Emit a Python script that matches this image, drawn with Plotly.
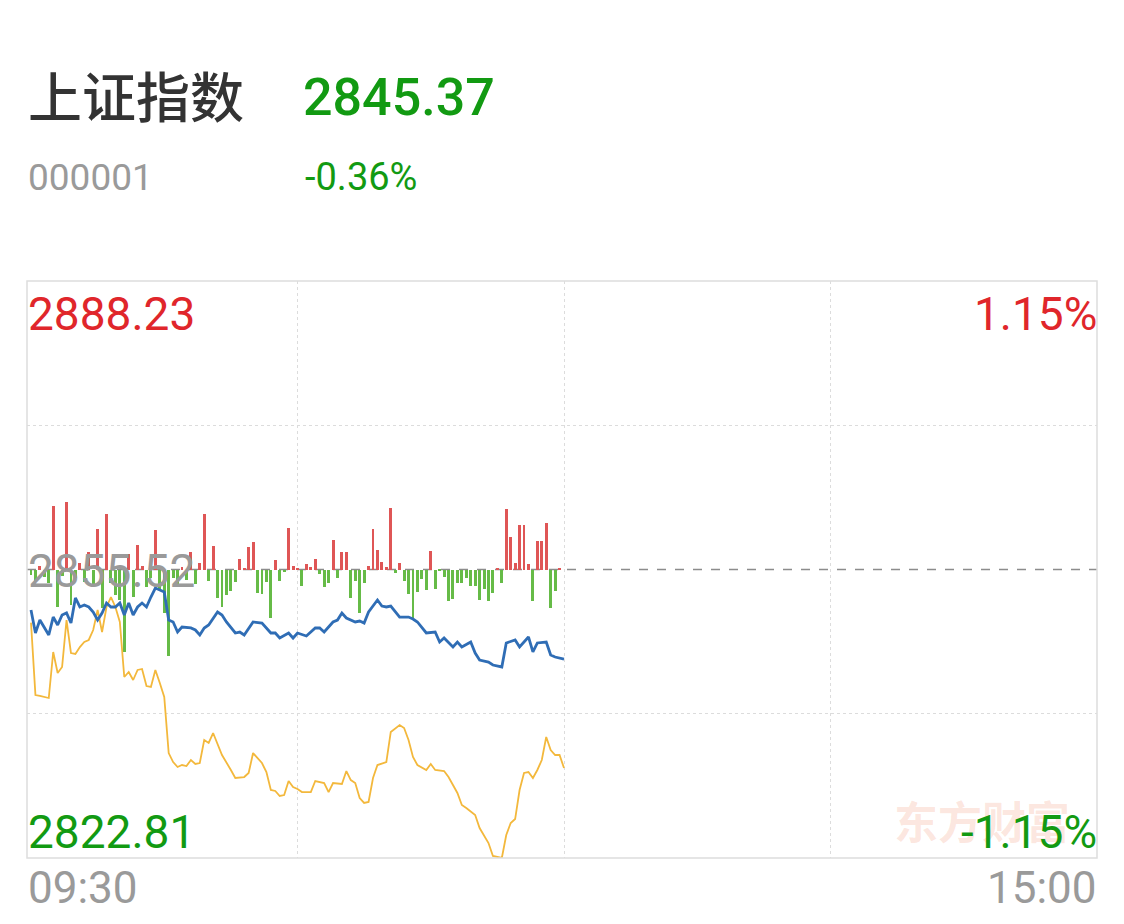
import plotly.graph_objects as go

# ---------------- data ----------------
title_name = "上证指数"
title_code = "000001"
last_price = "2845.37"
last_change = "-0.36%"
price_high_label = "2888.23"
price_low_label = "2822.81"
price_mid_label = "2855.52"
pct_high_label = "1.15%"
pct_low_label = "-1.15%"
time_labels = ["09:30", "15:00"]

price_low = 2822.81
price_high = 2888.23
price_mid = 2855.52

# minutes since 09:30 (session = 240 minutes)
price_min = [0, 1, 2, 4, 5, 6, 7, 8, 9, 10, 11, 12, 13, 14, 15, 16, 17, 18, 19, 20,
             21, 22, 23, 24, 25, 26, 27, 28, 29, 30, 31, 32, 33, 34, 36, 37, 38, 39, 40, 42,
             43, 44, 46, 47, 48, 50, 52, 53, 54, 55, 56, 58, 59, 60, 62, 64, 65, 66, 68, 69,
             70, 71, 73, 74, 75, 76, 78, 79, 80, 81, 82, 83, 85, 86, 87, 89, 91, 92, 93, 95,
             96, 97, 99, 100, 101, 103, 104, 106, 107, 109, 110, 112, 113, 114, 116, 117, 118, 120]
price_val = [2850.93, 2848.32, 2849.79, 2848.09, 2850.13, 2849.23, 2850.36, 2850.59, 2849.45, 2852.29,
             2851.27, 2851.50, 2851.27, 2850.70, 2849.79, 2850.59, 2851.72, 2851.27, 2851.27, 2851.72,
             2850.36, 2851.72, 2850.36, 2851.27, 2851.72, 2851.27, 2852.40, 2853.42, 2853.20, 2852.97,
             2849.79, 2849.57, 2848.43, 2849.00, 2848.89, 2848.66, 2848.09, 2848.89, 2849.23, 2850.70,
             2850.36, 2849.57, 2848.32, 2848.43, 2848.09, 2849.57, 2849.45, 2848.89, 2848.32, 2848.32,
             2847.75, 2848.32, 2847.75, 2848.32, 2847.98, 2848.89, 2848.89, 2848.43, 2849.57, 2849.79,
             2850.59, 2850.02, 2849.57, 2849.68, 2849.45, 2850.70, 2852.06, 2851.38, 2851.27, 2851.38,
             2850.70, 2850.13, 2850.13, 2849.91, 2849.57, 2848.32, 2848.43, 2847.30, 2847.75, 2846.73,
             2847.30, 2846.73, 2847.30, 2846.05, 2845.26, 2845.03, 2844.69, 2844.47, 2847.19, 2847.53,
             2846.73, 2847.87, 2846.17, 2847.19, 2847.30, 2845.83, 2845.60, 2845.37]

lead_min = [0, 1, 2, 4, 5, 6, 7, 8, 9, 10, 11, 12, 13, 14, 15, 16, 17, 18, 19, 20,
            21, 22, 23, 24, 25, 26, 27, 28, 29, 30, 31, 32, 33, 34, 35, 36, 37, 38, 39, 40,
            41, 43, 45, 46, 48, 49, 50, 52, 53, 54, 55, 56, 57, 58, 59, 60, 61, 63, 64, 66,
            67, 68, 70, 71, 72, 73, 74, 75, 76, 77, 78, 80, 81, 83, 84, 85, 86, 87, 89, 90,
            91, 93, 94, 96, 97, 98, 100, 101, 103, 104, 106, 107, 108, 109, 110, 111, 112, 113, 114, 115,
            116, 117, 118, 119, 120]
lead_val = [2849.50, 2841.29, 2841.18, 2840.95, 2846.17, 2843.79, 2844.47, 2849.79, 2846.05, 2845.94,
            2846.73, 2847.30, 2847.53, 2848.66, 2850.93, 2848.43, 2851.27, 2852.40, 2851.27, 2849.57,
            2843.33, 2843.90, 2842.99, 2844.13, 2844.24, 2842.31, 2842.20, 2844.13, 2842.65, 2841.06,
            2834.71, 2833.69, 2833.13, 2833.35, 2833.24, 2833.92, 2833.47, 2833.58, 2836.19, 2835.85,
            2836.98, 2834.49, 2832.79, 2831.88, 2831.99, 2832.45, 2834.71, 2833.58, 2832.56, 2830.52,
            2830.41, 2829.84, 2829.95, 2831.54, 2830.86, 2830.63, 2830.29, 2830.29, 2831.54, 2831.31,
            2830.29, 2831.31, 2831.20, 2832.67, 2831.65, 2831.31, 2829.61, 2829.05, 2829.16, 2831.88,
            2833.35, 2833.69, 2837.10, 2837.89, 2837.55, 2836.19, 2834.26, 2833.35, 2832.79, 2833.47,
            2832.79, 2832.67, 2831.99, 2830.18, 2828.82, 2828.48, 2827.69, 2826.21, 2824.51, 2823.04,
            2822.81, 2825.42, 2826.78, 2827.23, 2830.52, 2832.45, 2832.56, 2831.88, 2832.79, 2833.92,
            2836.53, 2835.05, 2834.49, 2834.49, 2833.01]

# per-minute bars (0..120), positive = up (red), negative = down (green)
bar_min = list(range(121))
bar_val = [-5, -11, 4, -7, -13, 64, -37, -6, 68, -35,
           -8, 7, -12, 18, -14, 41, -38, 56, -13, -25,
           -30, -82, 16, -27, 25, 4, -17, -8, 40, -20,
           -43, -86, -8, -15, 3, -10, 18, -14, 7, 56,
           -11, 24, -28, -37, -25, -21, -12, 11, 2, 23,
           28, -23, -24, -12, -48, 10, -11, -2, 42, 4,
           1, -16, 6, 3, 11, -4, -17, -13, 30, -8,
           18, 18, -28, -11, -43, -13, 4, 41, 20, 8,
           3, 62, -3, 7, -11, -24, -48, -22, -9, -20,
           19, -19, -1, -7, -31, -29, -13, -13, -8, -16,
           -16, -30, -19, -31, -23, 1, -13, 61, 33, 7,
           45, 45, 6, -31, 29, 29, 47, -38, -21, 1,
           0]
bar_limit = 288.5

# ---------------- style ----------------
RED = "#e0262b"
GREEN = "#129a12"
GRAY = "#9a9a9a"
BAR_RED = "#df5656"
BAR_GREEN = "#66bb47"
FONT = "Roboto, 'Noto Sans CJK SC', sans-serif"

# page body has an 8px margin: figure occupies screen 8..8+W
OFF = 8
W, H = 1124 - 2 * OFF, 924 - 2 * OFF
# plot box in screen pixels
L, R, T, B = 27, 1097, 281, 858


def ax(xp):
    return (xp - L) / (R - L)


def ay(yp):
    return (B - yp) / (B - T)


fig = go.Figure()

fig.add_trace(go.Bar(
    x=bar_min, y=bar_val, width=0.66,
    marker=dict(color=[BAR_RED if v > 0 else BAR_GREEN for v in bar_val], line=dict(width=0)),
    yaxis="y", hoverinfo="skip",
))
fig.add_trace(go.Scatter(
    x=lead_min, y=lead_val, mode="lines",
    line=dict(color="#f3b83c", width=1.8), yaxis="y2", hoverinfo="skip",
))
fig.add_trace(go.Scatter(
    x=price_min, y=price_val, mode="lines",
    line=dict(color="#2f6db5", width=2.8), yaxis="y2", hoverinfo="skip",
))

grid = dict(showgrid=True, gridcolor="#dcdcdc", griddash="dot", gridwidth=1,
            zeroline=False, showticklabels=False, ticks="", showline=False)

fig.update_layout(
    width=W, height=H,
    margin=dict(l=L - OFF, r=(W + OFF) - R, t=T - OFF, b=(H + OFF) - B, pad=0),
    paper_bgcolor="white", plot_bgcolor="white",
    showlegend=False, bargap=0, hovermode=False,
    xaxis=dict(range=[-0.9, 240], tickvals=[60, 120, 180], fixedrange=True, **grid),
    yaxis=dict(range=[-bar_limit, bar_limit], tickvals=[-bar_limit / 2, bar_limit / 2],
               fixedrange=True, **grid),
    yaxis2=dict(range=[price_low, price_high], overlaying="y", visible=False, fixedrange=True),
    font=dict(family=FONT),
)

fig.add_shape(type="line", xref="paper", yref="y2", x0=0, x1=1, y0=price_mid, y1=price_mid,
              line=dict(color="#8c8c8c", width=1.5, dash="dash"), layer="below")
fig.add_shape(type="rect", xref="paper", yref="paper", x0=0, x1=1, y0=0, y1=1,
              line=dict(color="#dddddd", width=1.5), layer="above")


def note(text, xp, yp, size, color, anchor="left", weight="normal"):
    fig.add_annotation(text=text, xref="paper", yref="paper", x=ax(xp), y=ay(yp),
                       xanchor=anchor, yanchor="middle", showarrow=False, borderpad=0,
                       font=dict(family=FONT, size=size, color=color, weight=weight))


# watermark
fig.add_annotation(text="东方财富", xref="paper", yref="paper", x=ax(982), y=ay(820),
                   xanchor="center", yanchor="middle", showarrow=False,
                   font=dict(family="'Noto Sans CJK SC', sans-serif", size=44,
                             color="rgba(240,130,90,0.2)", weight="bold"))

note(title_name, 27, 99, 54, "#333333", weight=500)
note(last_price, 302, 97, 52, GREEN, weight=500)
note(title_code, 27, 177, 37, GRAY)
note(last_change, 304, 177, 38, GREEN)
note(price_high_label, 27, 314, 46, RED)
note(pct_high_label, 1098, 314, 46, RED, anchor="right")
note(price_mid_label, 27, 571, 46, GRAY)
note(price_low_label, 27, 832, 46, GREEN)
note(pct_low_label, 1098, 832, 46, GREEN, anchor="right")
note(time_labels[0], 27, 888, 44, GRAY)
note(time_labels[1], 1098, 888, 44, GRAY, anchor="right")

fig.write_html("out.html", config={"displayModeBar": False})
